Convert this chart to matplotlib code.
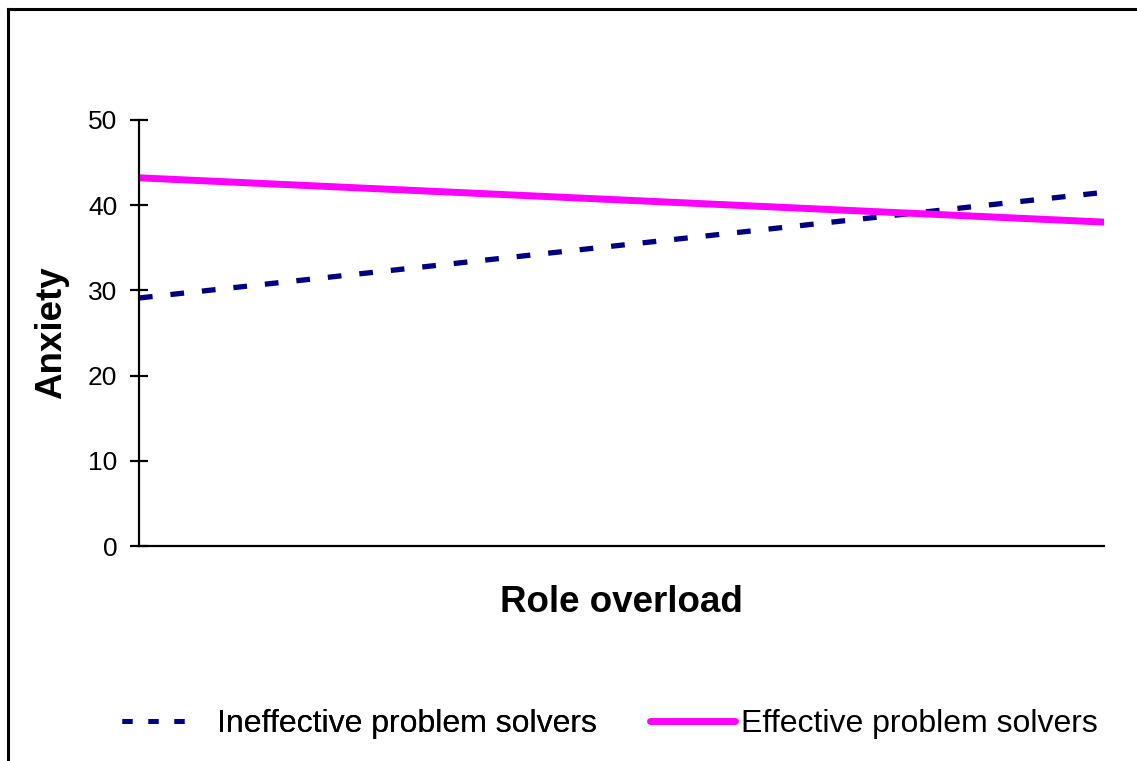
import matplotlib.pyplot as plt
from matplotlib.lines import Line2D

plt.rcParams['font.family'] = ['Liberation Sans', 'DejaVu Sans']

# Role overload: low to high
role_overload = [0, 1]
ineffective = [29.1, 41.5]
effective = [43.2, 38.0]
series_names = ["Ineffective problem solvers", "Effective problem solvers"]
y_ticks = [0, 10, 20, 30, 40, 50]

navy = '#000080'
magenta = '#ff00ff'

fig = plt.figure(figsize=(11.37, 7.61), dpi=100)
ax = fig.add_axes([0.1222, 0.2825, 0.849, 0.56])

ax.plot(role_overload, ineffective, color=navy, lw=3.8,
        linestyle=(0, (2.6, 3.4)))
ax.plot(role_overload, effective, color=magenta, lw=5,
        solid_capstyle='butt')

ax.set_xlim(0, 1)
ax.set_ylim(0, 50)
ax.set_yticks(y_ticks)
ax.set_xticks([])
for s in ['top', 'right']:
    ax.spines[s].set_visible(False)
for s in ['left', 'bottom']:
    ax.spines[s].set_linewidth(1.6)
ax.tick_params(axis='y', direction='inout', length=13, width=1.6,
               labelsize=19, pad=9)

ax.set_ylabel("Anxiety", fontsize=26.5, fontweight='bold', labelpad=14)
ax.set_xlabel("Role overload", fontsize=26.5, fontweight='bold', labelpad=28)

# legend: two single entries placed along the bottom
h1 = Line2D([], [], color=navy, lw=3.6, linestyle=(0, (2, 3.2)))
h2 = Line2D([], [], color=magenta, lw=5, solid_capstyle='round')
fs = 23
px = fs * 100 / 72
y_leg = 1 - 724 / 761
leg1 = fig.legend([h1], [series_names[0]], loc='center left',
                  bbox_to_anchor=(122 / 1137, y_leg), frameon=False,
                  fontsize=fs, borderpad=0, borderaxespad=0,
                  handlelength=63 / px, handletextpad=32 / px)
leg2 = fig.legend([h2], [series_names[1]], loc='center left',
                  bbox_to_anchor=(650 / 1137, y_leg), frameon=False,
                  fontsize=fs, borderpad=0, borderaxespad=0,
                  handlelength=85 / px, handletextpad=6 / px)
fig.add_artist(leg1)

# outer frame (left and top edges visible)
fig.add_artist(Line2D([8 / 1137, 8 / 1137], [0, 1 - 9 / 761],
                      color='black', lw=2.2, transform=fig.transFigure))
fig.add_artist(Line2D([8 / 1137, 1], [1 - 9 / 761, 1 - 9 / 761],
                      color='black', lw=2.2, transform=fig.transFigure))

fig.savefig("out.png", dpi=100)
